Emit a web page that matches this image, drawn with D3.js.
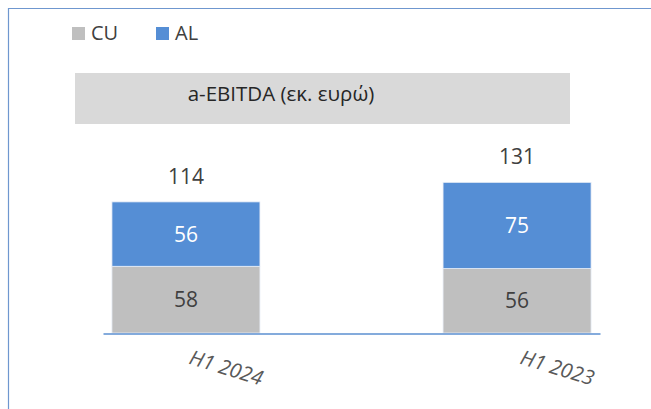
<!DOCTYPE html>
<html>
<head>
<meta charset="utf-8">
<script src="https://cdn.jsdelivr.net/npm/d3@7"></script>
<style>
  body { margin: 0; background: #fff; }
  text { font-family: "Open Sans", "Liberation Sans", sans-serif; }
</style>
</head>
<body>
<script>
var categories = ["H1 2024", "H1 2023"];
var cuValues = [58, 56];
var alValues = [56, 75];
var seriesNames = ["CU", "AL"];
var chartTitle = "a-EBITDA (εκ. ευρώ)";

var width = 651;
var height = 409;

var grey = '#bfbfbf';
var blue = '#558ed5';
var textColor = '#404040';

var svg = d3.select("body")
  .append("svg")
  .attr("width", width)
  .attr("height", height);

// frame: only top and left edges show
svg.append("path")
  .attr("d", "M8.5,409V8.5H651")
  .attr("fill", "none")
  .attr("stroke", "#6f97cf")
  .attr("stroke-width", 1.2);

// legend
var legendX = [72, 156];
var colors = [grey, blue];
seriesNames.forEach(function (name, i) {
  svg.append("rect")
    .attr("x", legendX[i]).attr("y", 27)
    .attr("width", 13).attr("height", 13)
    .attr("fill", colors[i]);
  svg.append("text")
    .attr("x", legendX[i] + 19).attr("y", 40)
    .attr("font-size", 20)
    .attr("fill", textColor)
    .text(name);
});

// title box
svg.append("rect")
  .attr("x", 75).attr("y", 73)
  .attr("width", 495).attr("height", 51)
  .attr("fill", "#d9d9d9");
svg.append("text")
  .attr("x", 281).attr("y", 101)
  .attr("text-anchor", "middle")
  .attr("font-size", 20.5)
  .attr("fill", "#262626")
  .text(chartTitle);

// scales
var x = d3.scaleBand()
  .domain(categories)
  .range([103, 600])
  .paddingInner(0.553)
  .paddingOuter(0.027);

var y = d3.scaleLinear()
  .domain([0, 150])
  .range([333, 160.5]);

var rows = categories.map(function (c, i) {
  return { cat: c, CU: cuValues[i], AL: alValues[i] };
});
var stacked = d3.stack().keys(seriesNames)(rows);

svg.selectAll("g.series")
  .data(stacked)
  .enter()
  .append("g")
  .attr("class", "series")
  .attr("fill", function (d, i) { return colors[i]; })
  .selectAll("rect")
  .data(function (d) { return d; })
  .enter()
  .append("rect")
  .attr("x", function (d) { return x(d.data.cat); })
  .attr("y", function (d) { return y(d[1]); })
  .attr("width", x.bandwidth())
  .attr("height", function (d) { return y(d[0]) - y(d[1]); })
  .attr("stroke", "#e8eef7")
  .attr("stroke-width", 0.8);

// segment labels
stacked.forEach(function (s, i) {
  svg.selectAll("text.seg" + i)
    .data(s)
    .enter()
    .append("text")
    .attr("class", "seg" + i)
    .attr("x", function (d) { return x(d.data.cat) + x.bandwidth() / 2; })
    .attr("y", function (d) { return (y(d[0]) + y(d[1])) / 2; })
    .attr("dy", "0.36em")
    .attr("text-anchor", "middle")
    .attr("font-size", 21)
    .attr("fill", i === 1 ? "#ffffff" : textColor)
    .text(function (d) { return d[1] - d[0]; });
});

// totals
svg.selectAll("text.total")
  .data(rows)
  .enter()
  .append("text")
  .attr("class", "total")
  .attr("x", function (d) { return x(d.cat) + x.bandwidth() / 2; })
  .attr("y", function (d) { return y(d.CU + d.AL) - 18; })
  .attr("text-anchor", "middle")
  .attr("font-size", 21)
  .attr("fill", textColor)
  .text(function (d) { return d.CU + d.AL; });

// x axis
var xAxis = svg.append("g")
  .attr("transform", "translate(0,333.5)")
  .call(d3.axisBottom(x).tickSize(0).tickPadding(0));
xAxis.select(".domain").attr("stroke", "#5b8fd0").attr("stroke-width", 1.5);
xAxis.selectAll(".tick text")
  .attr("font-size", 20.5)
  .attr("font-style", "italic")
  .attr("fill", "#595959")
  .attr("text-anchor", "start")
  .attr("x", 0)
  .attr("y", 0)
  .attr("dy", 0)
  .attr("transform", "translate(2,30) rotate(17)");
</script>
</body>
</html>
